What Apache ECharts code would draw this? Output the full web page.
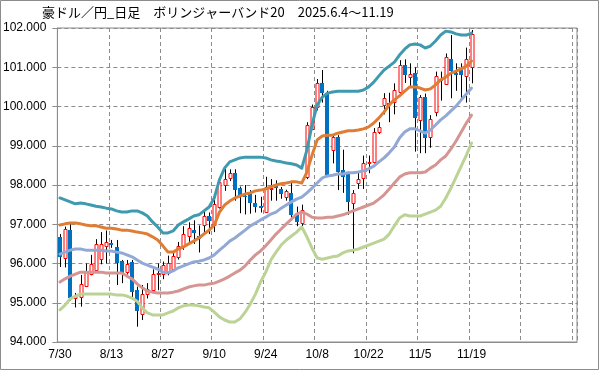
<!DOCTYPE html>
<html><head><meta charset="utf-8">
<script src="https://cdn.jsdelivr.net/npm/echarts@6/dist/echarts.min.js"></script>
<style>html,body{margin:0;padding:0;background:#fff}#c{width:599px;height:370px}</style>
</head><body><div id="c"></div>
<script>
const titleText = '豪ドル／円_日足　ボリンジャーバンド20　2025.6.4～11.19';
const dates = ['7/30','7/31','8/1','8/4','8/5','8/6','8/7','8/8','8/11','8/12',
'8/13','8/14','8/15','8/18','8/19','8/20','8/21','8/22','8/25','8/26',
'8/27','8/28','8/29','9/1','9/2','9/3','9/4','9/5','9/8','9/9',
'9/10','9/11','9/12','9/15','9/16','9/17','9/18','9/19','9/22','9/23',
'9/24','9/25','9/26','9/29','9/30','10/1','10/2','10/3','10/6','10/7',
'10/8','10/9','10/10','10/13','10/14','10/15','10/16','10/17','10/20','10/21',
'10/22','10/23','10/24','10/27','10/28','10/29','10/30','10/31','11/3','11/4',
'11/5','11/6','11/7','11/10','11/11','11/12','11/13','11/14','11/17','11/18',
'11/19'];
const emptySlots = 20;
const yTicks = {min: 94, max: 102, step: 1};

const open = [96.67,96.13,96.85,95.12,95.14,95.44,95.73,95.83,96.12,96.46,
96.52,96.41,96.06,95.79,96.05,95.32,94.72,95.22,95.34,95.73,
95.72,95.76,95.84,96.17,96.43,96.69,96.85,96.71,97.00,97.20,
96.98,97.45,98.00,98.17,98.30,97.92,97.72,97.83,97.55,97.46,
97.32,97.90,98.00,97.89,97.69,97.79,97.24,97.02,98.21,99.44,
99.99,100.59,100.34,98.89,99.23,98.38,98.30,97.53,98.06,98.17,
98.55,98.59,99.36,100.04,100.10,100.12,100.38,101.06,100.76,100.85,
99.67,100.23,99.22,99.87,100.70,100.57,101.20,100.85,100.97,100.76,
101.01];
const close = [96.16,96.87,95.11,95.18,95.48,95.82,95.99,96.50,96.50,96.55,
96.46,95.99,95.75,96.00,95.28,94.78,95.22,95.34,95.74,95.76,
95.95,96.02,96.18,96.45,96.74,96.90,96.77,96.64,97.22,97.07,
97.52,98.08,98.15,98.30,97.87,97.75,97.70,97.55,97.45,97.42,
97.96,97.93,97.92,97.75,97.85,97.24,97.07,97.36,99.53,100.00,
100.59,100.34,98.25,99.23,98.34,98.21,97.57,97.79,98.15,98.55,
98.58,99.36,99.49,100.21,100.05,100.42,101.06,100.80,100.83,99.70,
100.25,99.19,99.67,100.78,100.65,101.25,100.89,100.80,100.78,101.20,
101.85];
const low = [95.91,95.90,95.05,94.88,94.90,95.40,95.70,95.80,95.98,96.00,
96.40,95.45,95.50,95.72,95.07,94.39,94.56,95.11,95.30,95.32,
95.60,95.70,95.80,96.10,96.35,96.55,96.50,96.28,96.80,96.75,
96.80,97.40,97.85,98.10,97.60,97.28,97.25,97.27,97.30,97.30,
97.32,97.60,97.60,97.65,97.60,97.15,96.95,96.94,98.15,99.40,
99.90,100.10,98.20,98.55,97.87,97.80,97.24,96.26,97.90,97.90,
98.30,98.55,99.30,99.80,99.60,99.80,100.30,100.60,100.50,98.85,
98.81,98.81,98.95,99.75,100.15,100.55,100.21,100.40,100.15,100.10,
100.59];
const high = [96.75,96.94,97.05,95.25,95.71,96.00,96.22,96.62,96.80,96.84,
96.60,96.60,96.09,96.09,96.09,95.41,95.45,95.50,95.85,96.00,
96.05,96.20,96.30,96.55,96.95,97.05,97.10,96.97,97.35,97.30,
97.65,98.20,98.43,98.40,98.40,97.96,98.00,97.87,97.75,97.70,
98.21,98.15,98.12,97.95,97.88,98.05,97.45,97.50,99.60,100.05,
100.70,100.93,100.40,99.30,99.27,98.90,98.34,97.87,98.34,98.75,
98.75,99.45,99.60,100.34,100.35,100.59,101.18,101.20,101.10,101.00,
100.29,100.33,99.78,100.89,100.89,101.35,101.82,101.10,101.10,101.50,
101.95];

const upper2 = [97.67,97.62,97.57,97.52,97.54,97.52,97.49,97.46,97.44,97.41,
97.39,97.34,97.31,97.31,97.34,97.34,97.29,97.21,97.06,96.93,
96.78,96.78,96.83,96.98,97.06,97.13,97.21,97.24,97.34,97.44,
97.67,98.13,98.43,98.59,98.64,98.69,98.71,98.71,98.71,98.71,
98.69,98.64,98.61,98.59,98.56,98.54,98.51,98.43,98.89,99.53,
100.04,100.24,100.34,100.37,100.39,100.39,100.39,100.39,100.39,100.42,
100.50,100.62,100.78,100.93,101.03,101.13,101.31,101.46,101.57,101.59,
101.57,101.49,101.54,101.67,101.82,101.92,101.90,101.85,101.82,101.82,
101.87];
const upper1 = [96.98,97.01,97.03,97.03,97.01,96.98,96.96,96.96,96.93,96.90,
96.90,96.88,96.85,96.85,96.83,96.80,96.78,96.75,96.68,96.60,
96.45,96.29,96.29,96.37,96.42,96.50,96.57,96.65,96.75,96.85,
96.98,97.31,97.49,97.59,97.67,97.72,97.77,97.80,97.85,97.87,
97.90,97.95,98.00,98.03,98.05,98.08,98.08,98.05,98.33,98.76,
99.15,99.25,99.27,99.27,99.32,99.35,99.38,99.38,99.40,99.43,
99.48,99.58,99.71,99.86,100.04,100.17,100.27,100.39,100.50,100.50,
100.47,100.42,100.45,100.55,100.68,100.75,100.85,100.90,100.96,101.03,
101.16];
const middle = [96.24,96.29,96.34,96.37,96.37,96.34,96.34,96.34,96.34,96.32,
96.32,96.29,96.27,96.22,96.17,96.09,96.01,95.96,95.91,95.86,
95.78,95.76,95.81,95.89,95.94,95.99,96.04,96.06,96.09,96.14,
96.22,96.34,96.45,96.57,96.65,96.75,96.85,96.96,97.03,97.11,
97.18,97.26,97.31,97.41,97.49,97.57,97.64,97.69,97.80,97.92,
98.05,98.18,98.23,98.25,98.28,98.28,98.31,98.31,98.33,98.36,
98.41,98.48,98.59,98.69,98.82,98.97,99.20,99.35,99.43,99.43,
99.38,99.32,99.40,99.53,99.66,99.76,99.89,100.01,100.17,100.32,
100.47];
const lower1 = [95.53,95.61,95.68,95.73,95.78,95.78,95.78,95.78,95.78,95.76,
95.76,95.76,95.76,95.68,95.61,95.48,95.38,95.30,95.27,95.25,
95.25,95.25,95.27,95.30,95.35,95.40,95.43,95.45,95.45,95.48,
95.50,95.55,95.61,95.68,95.76,95.83,95.94,96.09,96.22,96.32,
96.45,96.60,96.75,96.88,97.01,97.13,97.26,97.31,97.26,97.18,
97.16,97.16,97.18,97.18,97.21,97.24,97.29,97.34,97.39,97.44,
97.49,97.54,97.64,97.75,97.90,98.05,98.20,98.28,98.31,98.31,
98.31,98.33,98.43,98.51,98.64,98.74,98.92,99.12,99.35,99.58,
99.78];
const lower2 = [94.82,94.94,95.10,95.17,95.22,95.22,95.22,95.22,95.22,95.22,
95.22,95.20,95.20,95.17,95.12,95.04,94.87,94.74,94.69,94.69,
94.69,94.74,94.79,94.87,94.92,94.94,94.94,94.92,94.89,94.87,
94.76,94.64,94.56,94.51,94.51,94.59,94.76,94.97,95.22,95.53,
95.78,96.09,96.29,96.47,96.60,96.70,96.80,96.93,96.68,96.39,
96.14,96.11,96.14,96.17,96.19,96.27,96.32,96.34,96.37,96.42,
96.47,96.52,96.57,96.62,96.75,96.96,97.16,97.24,97.21,97.21,
97.21,97.26,97.31,97.36,97.46,97.67,97.92,98.20,98.48,98.76,
99.07];

const categories = dates.concat(new Array(emptySlots).fill(''));
const candleData = dates.map((d, i) => [i, open[i], close[i], low[i], high[i]]);

const chart = echarts.init(document.getElementById('c'), null, {renderer: 'canvas'});
const FONT = 'Liberation Sans, Arial, sans-serif';
function bandLine(name, data, color) {
  return {name, type: 'line', data, showSymbol: false, symbol: 'none', z: 5,
    lineStyle: {width: 3, color, cap: 'round', join: 'round'}, itemStyle: {color}, silent: true, animation: false};
}
chart.setOption({
  animation: false,
  backgroundColor: '#ffffff',
  title: {text: titleText, left: 42, top: 6, padding: 0,
    textStyle: {fontSize: 13, fontWeight: 'normal', color: '#000', fontFamily: 'Noto Sans CJK JP'}},
  graphic: [{type: 'rect', shape: {x: 0.5, y: 0.5, width: 598, height: 369},
    style: {fill: 'none', stroke: '#8c8c8c', lineWidth: 1}, silent: true, z: 100}],
  grid: {left: 57, right: 22, top: 28, bottom: 28, show: true, borderColor: '#8c8c8c', borderWidth: 1, backgroundColor: '#fff'},
  xAxis: {type: 'category', data: categories, boundaryGap: true,
    axisLine: {lineStyle: {color: '#8c8c8c'}},
    axisTick: {interval: 9, length: 5, lineStyle: {color: '#8c8c8c'}},
    axisLabel: {interval: 9, color: '#000', fontSize: 12, fontFamily: FONT, margin: 7},
    splitLine: {show: true, interval: 9, lineStyle: {color: '#8c8c8c', type: [4, 3], width: 1}}},
  yAxis: {type: 'value', min: yTicks.min, max: yTicks.max, interval: yTicks.step, scale: true,
    axisLine: {show: true, lineStyle: {color: '#8c8c8c'}},
    axisTick: {show: true, length: 5, lineStyle: {color: '#8c8c8c'}},
    axisLabel: {color: '#000', fontSize: 12, fontFamily: FONT, margin: 11,
      formatter: v => v.toFixed(3)},
    splitLine: {show: true, lineStyle: {color: '#8c8c8c', type: [4, 3], width: 1}}},
  series: [
    {type: 'custom', name: 'candle', z: 3, data: candleData,
      encode: {x: 0, y: [1, 2, 3, 4]},
      renderItem: function (params, api) {
        const i = api.value(0), o = api.value(1), c = api.value(2), l = api.value(3), h = api.value(4);
        const pO = api.coord([i, o]), pC = api.coord([i, c]), pL = api.coord([i, l]), pH = api.coord([i, h]);
        const cx = Math.round(pO[0]) + 0.5;
        const top = Math.min(pO[1], pC[1]), bot = Math.max(pO[1], pC[1]);
        const up = c >= o;
        const body = up
          ? {type: 'rect', shape: {x: cx - 1.5, y: Math.round(top) + 0.5, width: 3, height: Math.max(Math.round(bot - top), 1)},
             style: {fill: '#ffffff', stroke: '#ff0000', lineWidth: 1}}
          : {type: 'rect', shape: {x: cx - 2.5, y: Math.round(top), width: 4, height: Math.max(Math.round(bot - top), 1)},
             style: {fill: '#0070c0', stroke: null}};
        return {type: 'group', children: [
          {type: 'line', shape: {x1: cx, y1: pH[1], x2: cx, y2: pL[1]}, style: {stroke: '#000', lineWidth: 1}},
          body
        ]};
      }},
    bandLine('+2σ', upper2, '#3f9ab0'),
    bandLine('+1σ', upper1, '#e07d34'),
    bandLine('MA20', middle, '#92a9d6'),
    bandLine('-1σ', lower1, '#d59593'),
    bandLine('-2σ', lower2, '#bcd396')
  ]
});
</script></body></html>
